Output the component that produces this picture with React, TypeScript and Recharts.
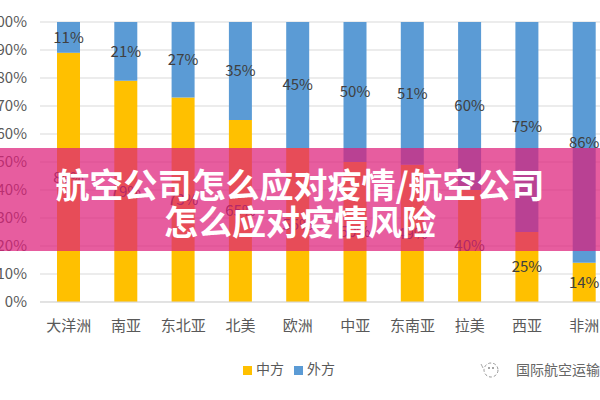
import React from 'react';
import { BarChart, Bar, XAxis, YAxis, CartesianGrid, Legend, LabelList } from 'recharts';

const regions = ['大洋洲', '南亚', '东北亚', '北美', '欧洲', '中亚', '东南亚', '拉美', '西亚', '非洲'];
const chineseShare = [89, 79, 73, 65, 55, 50, 49, 40, 25, 14];
const foreignShare = [11, 21, 27, 35, 45, 50, 51, 60, 75, 86];
const yTicks = [0, 10, 20, 30, 40, 50, 60, 70, 80, 90, 100];

const data = regions.map((name, i) => ({
    name,
    cn: chineseShare[i],
    foreign: foreignShare[i],
}));

const FONT = '"Noto Sans CJK SC", "Noto Sans", sans-serif';

export default function App() {
    return (
        <div style={{ position: 'fixed', left: 0, top: 0, width: 600, height: 400, overflow: 'hidden', background: '#fff', fontFamily: FONT }}>
            <BarChart
                width={613}
                height={400}
                data={data}
                margin={{ top: 22, right: 0, left: 0, bottom: 68 }}
                barSize={23}
            >
                <CartesianGrid vertical={false} stroke="#D9D9D9" />
                <XAxis
                    dataKey="name"
                    height={30}
                    axisLine={{ stroke: '#D9D9D9' }}
                    tickLine={false}
                    tickMargin={12}
                    interval={0}
                    tick={{ fill: '#595959', fontSize: 15, fontFamily: FONT }}
                />
                <YAxis
                    width={40}
                    domain={[0, 100]}
                    ticks={yTicks}
                    axisLine={false}
                    tickLine={false}
                    tickMargin={7}
                    tickFormatter={(v) => `${v}%`}
                    tick={{ fill: '#595959', fontSize: 15, fontFamily: FONT }}
                />
                {/* middle alignment keeps the legend from eating plot space; position set by wrapperStyle */}
                <Legend
                    verticalAlign="middle"
                    align="center"
                    iconType="square"
                    iconSize={9}
                    wrapperStyle={{ position: 'absolute', top: 358, left: 243, width: 'auto', fontSize: 14, fontFamily: FONT }}
                    formatter={(value) => <span style={{ color: '#595959' }}>{value}</span>}
                />
                <Bar dataKey="cn" name="中方" stackId="a" fill="#FFC000" isAnimationActive={false}>
                    <LabelList dataKey="cn" position="center" formatter={(v) => `${v}%`} fill="#404040" fontSize={15} fontFamily={FONT} />
                </Bar>
                <Bar dataKey="foreign" name="外方" stackId="a" fill="#5B9BD5" isAnimationActive={false}>
                    <LabelList dataKey="foreign" position="center" formatter={(v) => `${v}%`} fill="#404040" fontSize={15} fontFamily={FONT} />
                </Bar>
            </BarChart>

            {/* watermark */}
            <div style={{ position: 'absolute', left: 478, top: 359, display: 'flex', alignItems: 'center', color: '#666', fontSize: 14, whiteSpace: 'nowrap' }}>
                <svg width="24" height="20" style={{ marginRight: 14 }}>
                    <circle cx="13" cy="11" r="7" fill="none" stroke="#999" strokeWidth="1" strokeDasharray="3 2" />
                    <circle cx="11" cy="9" r="1" fill="#888" />
                    <circle cx="15" cy="9" r="1" fill="#888" />
                    <path d="M3 5 L5 9" stroke="#aaa" strokeWidth="1" />
                </svg>
                国际航空运输
            </div>

            {/* title banner */}
            <div style={{
                position: 'absolute', left: 0, top: 148, width: 600, height: 103,
                background: 'rgba(222, 30, 122, 0.72)',
                display: 'flex', flexDirection: 'column', justifyContent: 'center', alignItems: 'center',
                color: '#fff', fontWeight: 700, fontSize: 34, lineHeight: '37px', textAlign: 'center',
                paddingTop: 4, boxSizing: 'border-box', whiteSpace: 'nowrap',
            }}>
                <div>航空公司怎么应对疫情/航空公司</div>
                <div>怎么应对疫情风险</div>
            </div>
        </div>
    );
}
